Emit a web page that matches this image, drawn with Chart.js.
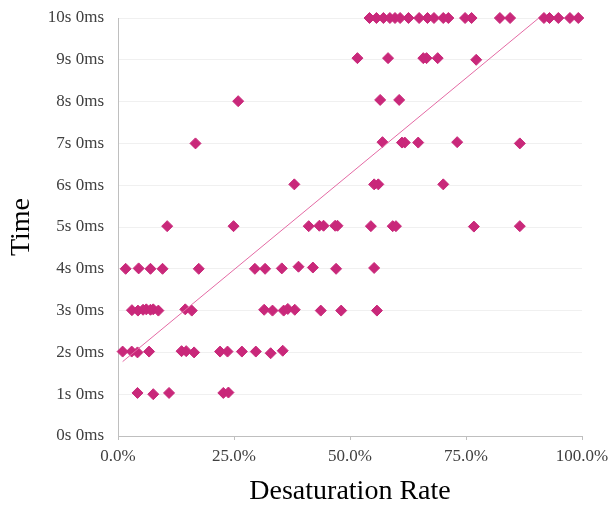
<!DOCTYPE html>
<html>
<head>
<meta charset="utf-8">
<script src="https://cdn.jsdelivr.net/npm/chart.js@4"></script>
<style>
html,body{margin:0;padding:0;background:#fff;}
#wrap{width:608px;height:507px;position:relative;}
</style>
</head>
<body>
<div id="wrap"><canvas id="c" width="608" height="507"></canvas></div>
<script>
const rateValues = [
  54.2, 55.7, 57.2, 58.6, 59.7, 60.8, 62.6, 64.9, 66.7, 68.1, 70.1, 71.2, 74.8, 76.2, 82.3, 84.5, 91.8, 93.0, 94.9, 97.4, 99.2,
  51.6, 58.2, 65.8, 66.5, 68.9, 77.2,
  25.9, 56.5, 60.6,
  16.7, 57.0, 61.2, 61.8, 64.7, 73.1, 86.6,
  38.0, 55.2, 56.1, 70.1,
  10.6, 24.9, 41.1, 43.4, 44.3, 46.8, 47.3, 54.5, 59.2, 59.9, 76.7, 86.6,
  1.65, 4.45, 7.0, 9.6, 17.4, 29.5, 31.7, 35.3, 38.9, 42.0, 47.0, 55.2,
  3.0, 4.3, 5.4, 6.1, 7.0, 7.6, 8.7, 14.5, 15.9, 31.5, 33.3, 35.7, 36.6, 38.1, 43.7, 48.1, 55.8,
  1.0, 2.95, 4.2, 6.7, 13.7, 14.7, 16.4, 22.0, 23.6, 26.7, 29.7, 32.9, 35.5,
  4.2, 7.6, 11.0, 22.7, 23.8
];
const timeValues = [
  10, 10, 10, 10, 10, 10, 10, 10, 10, 10, 10, 10, 10, 10, 10, 10, 10, 10, 10, 10, 10,
  9.04, 9.04, 9.04, 9.04, 9.04, 9.0,
  8.01, 8.04, 8.04,
  7.0, 7.03, 7.02, 7.02, 7.02, 7.03, 7.0,
  6.02, 6.02, 6.02, 6.02,
  5.02, 5.02, 5.02, 5.03, 5.03, 5.03, 5.03, 5.02, 5.02, 5.02, 5.01, 5.02,
  4.0, 4.01, 4.0, 4.0, 4.0, 4.0, 4.0, 4.01, 4.05, 4.03, 4.0, 4.02,
  3.01, 3.0, 3.02, 3.03, 3.02, 3.03, 3.0, 3.03, 3.0, 3.02, 3.0, 3.0, 3.04, 3.02, 3.0, 3.0, 3.0,
  2.02, 2.02, 2.0, 2.02, 2.03, 2.03, 2.0, 2.02, 2.02, 2.02, 2.02, 1.98, 2.04,
  1.03, 1.0, 1.03, 1.03, 1.04
];
// Linear trendline end points
const trendRate = [1.0, 90.7];
const trendTime = [1.78, 10.0];
// Axis ticks
const xTicks = [0, 25, 50, 75, 100];
const yTicks = [0, 1, 2, 3, 4, 5, 6, 7, 8, 9, 10];

const points = rateValues.map((r, i) => ({x: r, y: timeValues[i]}));
const trend = trendRate.map((r, i) => ({x: r, y: trendTime[i]}));

const serif = "'Liberation Serif', 'Times New Roman', serif";
const tickColor = '#404040';

new Chart(document.getElementById('c'), {
  type: 'scatter',
  data: {
    datasets: [
      {
        label: 'Trend',
        data: trend,
        showLine: true,
        borderColor: '#e46aa4',
        borderWidth: 1,
        pointRadius: 0,
        fill: false,
        clip: false
      },
      {
        label: 'Time',
        data: points,
        pointStyle: 'rectRot',
        pointRadius: 5.5,
        pointBorderWidth: 1,
        backgroundColor: '#c9287a',
        borderColor: '#c9287a',
        clip: false
      }
    ]
  },
  options: {
    responsive: false,
    animation: false,
    devicePixelRatio: 1,
    layout: {padding: {top: 18, right: 26, bottom: 0, left: 0}},
    plugins: {legend: {display: false}, tooltip: {enabled: false}},
    scales: {
      x: {
        type: 'linear',
        min: 0, max: 100,
        afterBuildTicks: s => { s.ticks = xTicks.map(v => ({value: v})); },
        afterFit: s => { s.height = 71; s.paddingRight = 0; s.paddingLeft = 0; },
        ticks: {
          callback: v => v.toFixed(1) + '%',
          font: {family: serif, size: 17},
          color: tickColor,
          padding: 6,
          maxRotation: 0
        },
        grid: {drawOnChartArea: false, drawTicks: true, tickLength: 4, color: '#bfbfbf'},
        border: {display: true, color: '#bfbfbf', width: 1},
        title: {
          display: true,
          text: 'Desaturation Rate',
          font: {family: serif, size: 28, lineHeight: 1.1},
          color: '#000',
          padding: {top: 0, bottom: 0}
        }
      },
      y: {
        type: 'linear',
        min: 0, max: 10,
        afterBuildTicks: s => { s.ticks = yTicks.map(v => ({value: v})); },
        afterFit: s => { s.width = 118; s.paddingTop = 0; s.paddingBottom = 0; },
        ticks: {
          callback: v => v + 's 0ms',
          font: {family: serif, size: 17},
          color: tickColor,
          padding: 14
        },
        grid: {color: '#f0f0f0', drawTicks: false},
        border: {display: true, color: '#bfbfbf', width: 1},
        title: {
          display: true,
          text: 'Time',
          font: {family: serif, size: 28, lineHeight: 1.1},
          color: '#000',
          padding: {top: 6, bottom: 0}
        }
      }
    }
  }
});
</script>
</body>
</html>
